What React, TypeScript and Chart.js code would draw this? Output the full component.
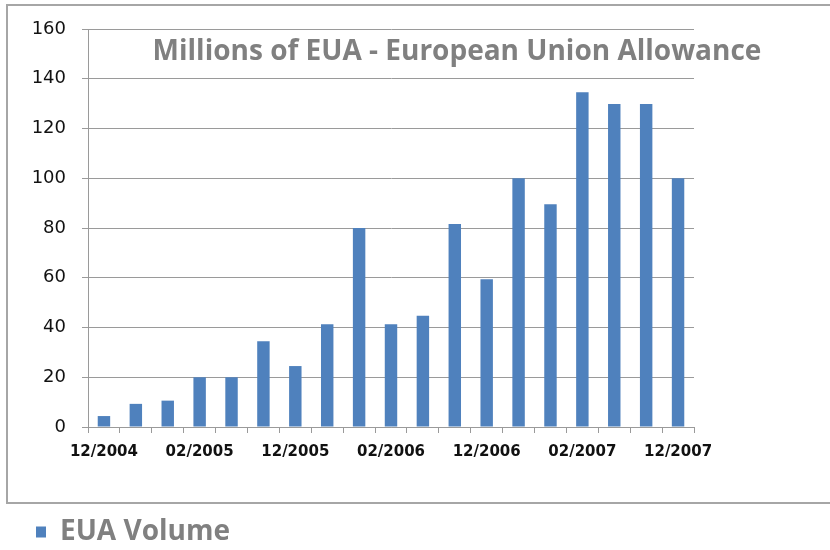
import React, { useEffect, useRef } from "react";
import { Chart, registerables } from "chart.js";

Chart.register(...registerables);

const categories = [
  "12/2004", "", "", "02/2005", "", "", "12/2005", "", "", "02/2006",
  "", "", "12/2006", "", "", "02/2007", "", "", "12/2007",
];
const volumes = [
  4.4, 9.3, 10.6, 20, 20, 34.5, 24.5, 41.3, 80, 41.3,
  44.7, 81.6, 59.4, 100, 89.5, 134.6, 129.8, 129.8, 100,
];
const yTicks = [0, 20, 40, 60, 80, 100, 120, 140, 160];
const seriesName = "EUA Volume";
const titleText = "Millions of EUA - European Union Allowance";

const framePlugin = {
  id: "frame",
  beforeDraw(chart: any) {
    const ctx = chart.ctx;
    ctx.save();
    ctx.fillStyle = "#ffffff";
    ctx.fillRect(0, 0, chart.width, chart.height);
    ctx.strokeStyle = "#a6a6a6";
    ctx.lineWidth = 2;
    ctx.strokeRect(7, 5, 900, 498);
    ctx.restore();
  },
  afterDraw(chart: any) {
    const ctx = chart.ctx;
    ctx.save();
    ctx.font = "bold 28px 'Open Sans'";
    ctx.fillStyle = "#808080";
    ctx.textAlign = "center";
    ctx.textBaseline = "middle";
    ctx.fillText(titleText, 457, 52);
    ctx.restore();
  },
};

export default function App() {
  const ref = useRef<HTMLCanvasElement | null>(null);
  useEffect(() => {
    if (!ref.current) return;
    const chart = new Chart(ref.current, {
      type: "bar",
      data: {
        labels: categories,
        datasets: [
          {
            label: seriesName,
            data: volumes,
            backgroundColor: "#4f81bd",
            borderWidth: 0,
            categoryPercentage: 1,
            barPercentage: 0.39,
          },
        ],
      },
      plugins: [framePlugin],
      options: {
        animation: false,
        responsive: true,
        maintainAspectRatio: false,
        layout: { padding: { left: 16, right: 136, top: 29, bottom: 0 } },
        plugins: {
          title: { display: false },
          tooltip: { enabled: false },
          legend: {
            display: true,
            position: "bottom",
            align: "start",
            maxHeight: 52,
            labels: {
              boxWidth: 10,
              boxHeight: 11,
              padding: 20,
              color: "#808080",
              font: { family: "'Open Sans'", size: 28, weight: "bold" },
            },
          },
        },
        scales: {
          x: {
            offset: true,
            grid: {
              offset: true,
              drawOnChartArea: false,
              drawTicks: true,
              tickLength: 6,
              color: "#9a9a9a",
            },
            border: { color: "#9a9a9a", width: 1 },
            ticks: {
              autoSkip: false,
              maxRotation: 0,
              minRotation: 0,
              padding: 10,
              color: "#111111",
              font: { family: "'DejaVu Sans'", size: 15, weight: "bold" },
            },
            afterFit(scale: any) {
              scale.height = 71;
            },
          },
          y: {
            min: 0,
            max: 160,
            afterBuildTicks(scale: any) {
              scale.ticks = yTicks.map((v) => ({ value: v }));
            },
            grid: {
              color: "#9a9a9a",
              drawTicks: true,
              tickLength: 6,
            },
            border: { color: "#9a9a9a", width: 1 },
            ticks: {
              padding: 16,
              color: "#111111",
              font: { family: "'DejaVu Sans'", size: 18 },
            },
            afterFit(scale: any) {
              scale.width = 72;
            },
          },
        },
      },
    });
    return () => chart.destroy();
  }, []);
  return (
    <div style={{ position: "fixed", left: 0, top: 0, width: 830, height: 550 }}>
      <canvas ref={ref} />
    </div>
  );
}
